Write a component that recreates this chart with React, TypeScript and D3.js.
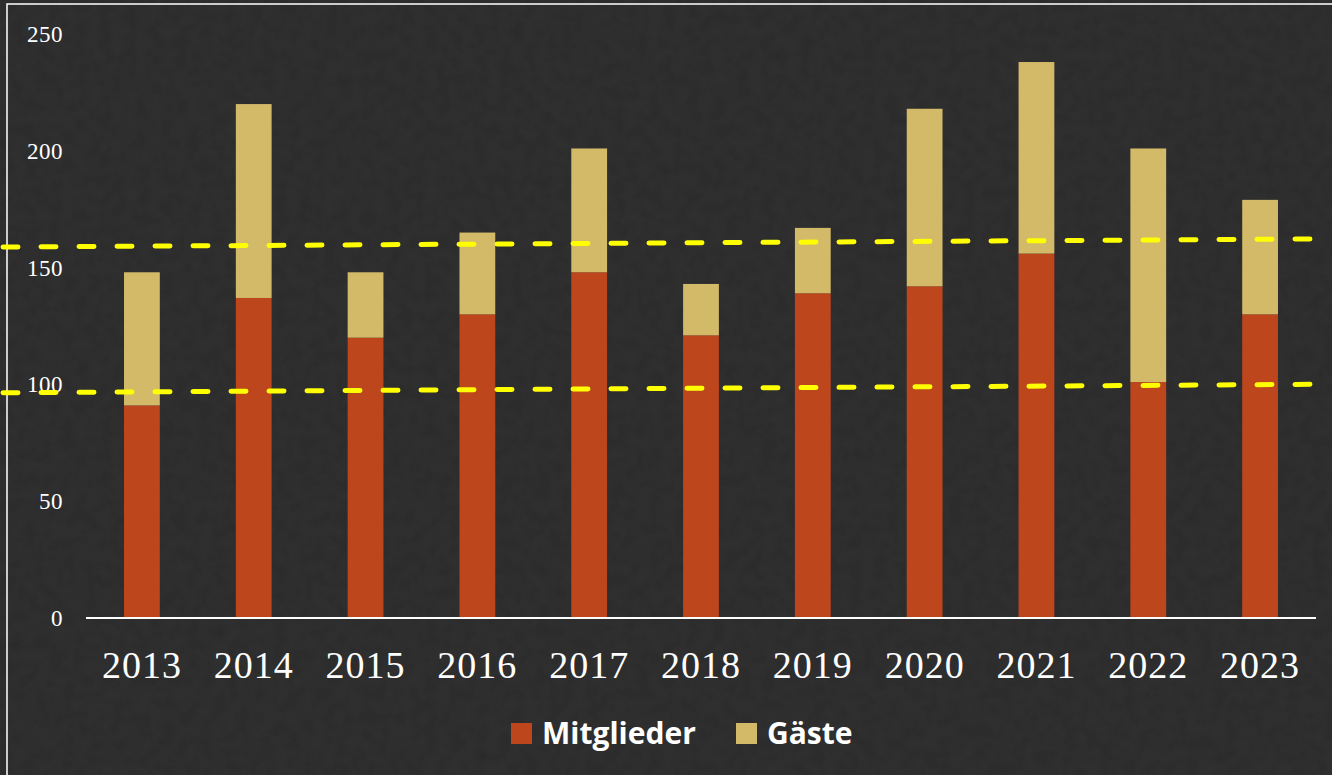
import React, { useEffect, useRef } from 'react';
import * as d3 from 'd3';

const years = ['2013', '2014', '2015', '2016', '2017', '2018', '2019', '2020', '2021', '2022', '2023'];
const mitglieder = [91, 137, 120, 130, 148, 121, 139, 142, 156, 101, 130];
const gaeste = [57, 83, 28, 35, 53, 22, 28, 76, 82, 100, 49];
const yTicks = [0, 50, 100, 150, 200, 250];
const seriesNames = ['Mitglieder', 'Gäste'];
const seriesColors = ['#bd461d', '#d3ba69'];
// yellow dashed annotation lines: value at left edge, value at right edge
const markLines = [
  [158.8, 162.3],
  [96.4, 100.1],
];

const W = 1332;
const H = 775;

const App = () => {
  const ref = useRef<SVGSVGElement>(null);

  useEffect(() => {
    const svg = d3.select(ref.current);
    svg.selectAll('*').remove();

    const left = 86;
    const right = 1316;
    const top = 34;
    const bottom = 618;

    const x = d3.scaleBand().domain(years).range([left, right]).paddingInner(0.68).paddingOuter(0.34);
    const y = d3.scaleLinear().domain([0, 250]).range([bottom, top]);

    // background with a faint texture
    const defs = svg.append('defs');
    const f = defs.append('filter').attr('id', 'grain').attr('x', 0).attr('y', 0).attr('width', 1).attr('height', 1);
    f.append('feTurbulence').attr('type', 'fractalNoise').attr('baseFrequency', 0.08).attr('numOctaves', 3).attr('seed', 4);
    f.append('feColorMatrix').attr('type', 'matrix').attr('values', '0 0 0 0 0.13  0 0 0 0 0.13  0 0 0 0 0.13  0 0 0 0.12 0');
    f.append('feComposite').attr('in2', 'SourceGraphic').attr('operator', 'in');

    svg.append('rect').attr('width', W).attr('height', H).attr('fill', '#2a2a2b');
    svg.append('rect').attr('width', W).attr('height', H).attr('fill', '#2a2a2b').attr('filter', 'url(#grain)');

    // frame
    svg.append('rect')
      .attr('x', 7).attr('y', 4).attr('width', W + 20).attr('height', H + 20)
      .attr('fill', 'none').attr('stroke', '#f4f4f4').attr('stroke-width', 1.6);

    const stacked = d3.stack<any>().keys(['m', 'g'])(
      years.map((yr, i) => ({ year: yr, m: mitglieder[i], g: gaeste[i] }))
    );

    stacked.forEach((layer, li) => {
      svg.append('g').selectAll('rect').data(layer).enter().append('rect')
        .attr('x', (d: any) => x(d.data.year)!)
        .attr('y', (d) => y(d[1]))
        .attr('width', x.bandwidth())
        .attr('height', (d) => y(d[0]) - y(d[1]))
        .attr('fill', seriesColors[li]);
    });

    // baseline
    svg.append('line')
      .attr('x1', left).attr('x2', right).attr('y1', y(0)).attr('y2', y(0))
      .attr('stroke', '#ffffff').attr('stroke-width', 2);

    // y tick labels
    svg.append('g').selectAll('text').data(yTicks).enter().append('text')
      .attr('x', 63).attr('y', (d) => y(d)).attr('dy', '0.35em')
      .attr('text-anchor', 'end')
      .attr('fill', '#ffffff')
      .style('font-family', '"Liberation Serif", "DejaVu Serif", serif')
      .style('font-size', '23px')
      .style('letter-spacing', '0.5px')
      .text((d) => d);

    // x labels
    svg.append('g').selectAll('text').data(years).enter().append('text')
      .attr('x', (d) => x(d)! + x.bandwidth() / 2).attr('y', 678)
      .attr('text-anchor', 'middle')
      .attr('fill', '#ffffff')
      .style('font-family', '"Liberation Serif", "DejaVu Serif", serif')
      .style('font-size', '38px')
      .style('letter-spacing', '1px')
      .text((d) => d);

    // dashed annotation lines
    markLines.forEach(([a, b]) => {
      svg.append('line')
        .attr('x1', 0).attr('x2', W).attr('y1', y(a)).attr('y2', y(b))
        .attr('stroke', '#ffff00').attr('stroke-width', 5)
        .attr('stroke-linecap', 'round')
        .attr('stroke-dasharray', '15 23')
        .attr('stroke-dashoffset', -3);
    });

    // legend
    const lg = svg.append('g').attr('transform', 'translate(511,733)');
    const items = [
      { name: seriesNames[0], color: seriesColors[0], dx: 0 },
      { name: seriesNames[1], color: seriesColors[1], dx: 225 },
    ];
    items.forEach((it) => {
      lg.append('rect').attr('x', it.dx).attr('y', -10).attr('width', 21).attr('height', 21).attr('fill', it.color);
      lg.append('text')
        .attr('x', it.dx + 31).attr('y', 0).attr('dy', '0.36em')
        .attr('fill', '#ffffff')
        .style('font-family', '"Open Sans", "Noto Sans", sans-serif')
        .style('font-weight', 700)
        .style('font-size', '30px')
        .text(it.name);
    });
  }, []);

  return (
    <svg
      ref={ref}
      width={W}
      height={H}
      style={{ position: 'fixed', left: 0, top: 0, display: 'block' }}
    />
  );
};

export default App;
